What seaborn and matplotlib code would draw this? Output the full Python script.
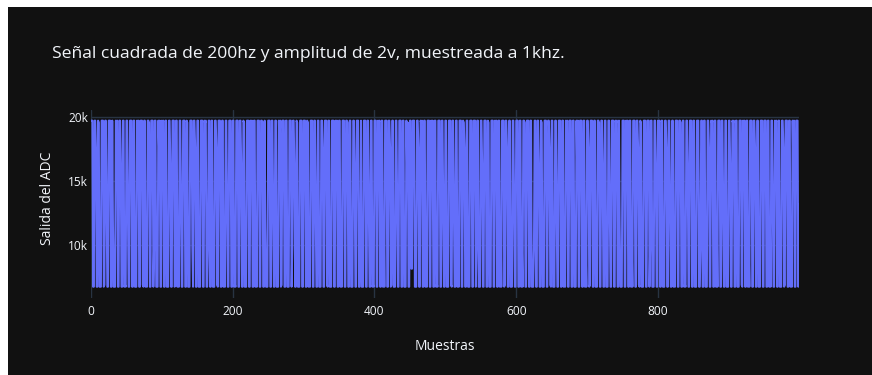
import matplotlib
matplotlib.use("Agg")
import matplotlib.pyplot as plt
import matplotlib.patches as mpatches
from matplotlib.ticker import FuncFormatter
import numpy as np
import pandas as pd
import seaborn as sns

# ADC readings, one character per sample (5 samples per 200 Hz period)
ADC_LEVELS = {
    "H": 19720, "h": 19560,   # high level
    "L": 6740, "l": 6880,     # low level
    "V": 17600, "U": 16000,   # samples caught on an edge
    "M": 13200, "N": 11500,
    "D": 9800, "m": 8150,
}
SAMPLE_CODES = [
    "HHHLL HHVLL HhLLL HHHLl HHMLL HHHLL HNLLL HhHLL HHULL HHLlL",
    "HHMLL HHHLL HHLLL HUHLL HHHlL HHLDL HHhLL HHHLD HHLLL HVHLL",
    "HhHLL HHLLL HHULL HHHLl HHLNL HHMLL HHHLL HhLLL HHHDL HHVLL",
    "HHLLL HHHLL HhHLL DHHLL HHLLL HHVlL HHHLL HHLNL HHMLL HHHLL",
    "HHLlL HHHLL HHULL HhLLL HHHLL HUHLL HHLDL HHHLL HHhLL HNLLL",
    "HHHLL HHMLL HHLLL HVHLl HHHLL HHLLL HHHLD HHULL HhLLL HHHLL",
    "HHHLL HhLNL HHHLL HHMLL HHLLL HHVLL HHHlL HHLLL HHHLL HUHLL",
    "HHLDL HHHLL HHhLL HHLLL HHULL HHHLL DHLLL HHHLL HHMLL HHLlL",
    "HHHLL HhHLL HHLNL HHHLL HHVLl HHLLL HHMLL HHHLL HHLLL HUhLL",
    "HHmmH HHLLL HHVLL HhHLL HHLDL HHHLL HUHLL HHLlL HHHLL HHMLL",
    "HHLLL HHHlL HHMLL HHLNL HHHLL HhVLL HHLLL HHHLL HHHLD HHLLL",
    "HHULL HHHLL HhLLL HHHLL HUHLL HHLNL HHHLl HHVLL HHLLL HHMLL",
    "HHHLL HHLDL HHhLL HHHLL HHLLL DHHLL HHULL HhLLL HHHLL HHVlL",
    "HHLLL HHMLL HHHLL HHLNL HhHLL HHHLL HHLLL HUHLL HHHLL HHLDL",
    "HHVLl HHHLL HHLLL HHhLL HHULL HHLLL HHMLL HHHLL HhHLL HNLLL",
    "HHHLL HUHLL HHLDL HHHLL HHVlL HhLLL HHHLL HHHLD HHLLL HHULL",
    "HhHLL HHLLL HHVLL HHMLL HHLNL HHHLL HHhLL HHLlL HHULL HHHLL",
    "HHLLL HHHLL DHHLL HHLLL HHVLL HhHLL HHLNL HHHLL HHMLL HHLLL",
    "HHULL HhHLL HHLLL HHHlL HUHLL HHLDL HHHLL HHVLL HHLLL HHHLL",
    "HHHLL HHLNL HHMLL HhHLL HHLLL HHVLl HHHLL HHLDL HUHLL HHHLM",
]

TITLE = "Señal cuadrada de 200hz y amplitud de 2v, muestreada a 1khz."
X_LABEL = "Muestras"
Y_LABEL = "Salida del ADC"
X_TICKS = [0, 200, 400, 600, 800]
Y_TICKS = [10000, 15000, 20000]

codes = "".join("".join(SAMPLE_CODES).split())
values = [ADC_LEVELS[c] for c in codes]
df = pd.DataFrame({"Muestras": np.arange(len(values)), "ADC": values})

BG = "#111111"
GRID = "#283442"
TXT = "#f2f5fa"
LINE = "#636efa"

sns.set_theme(style="dark")
plt.rcParams["font.family"] = ["Open Sans", "DejaVu Sans"]

W, H = 872, 375
fig = plt.figure(figsize=(W / 100, H / 100), dpi=100, facecolor="white")
# dark canvas with a thin white margin on the top and left
fig.patches.append(mpatches.Rectangle((8 / W, 0), 1 - 8 / W, 1 - 7 / H,
                                      transform=fig.transFigure,
                                      facecolor=BG, edgecolor="none",
                                      zorder=-10))

ax = fig.add_axes([91 / W, 1 - 298 / H, (799 - 91) / W, (298 - 110) / H])
ax.set_zorder(1)
ax.set_facecolor(BG)

sns.lineplot(data=df, x="Muestras", y="ADC", ax=ax, color=LINE,
             linewidth=1.45, zorder=3)

ax.set_xlim(0, len(values) - 1)
ax.set_ylim(5860, 20550)
ax.set_xticks(X_TICKS)
ax.set_yticks(Y_TICKS)
ax.yaxis.set_major_formatter(FuncFormatter(lambda v, p: f"{int(v / 1000)}k"))
ax.grid(True, color=GRID, linewidth=1.0, zorder=0)
ax.set_axisbelow(True)
ax.tick_params(axis="both", colors=TXT, labelsize=8.6, length=0, pad=5)
ax.tick_params(axis="y", pad=2)
for s in ax.spines.values():
    s.set_visible(False)

ax.set_xlabel("")
ax.set_ylabel("")
fig.text(445 / W, 1 - 347 / H, X_LABEL, color=TXT, fontsize=10,
         ha="center", va="center")
fig.text(47 / W, 1 - 198 / H, Y_LABEL, color=TXT, fontsize=10,
         ha="center", va="center", rotation=90)
fig.text(52 / W, 1 - 54 / H, TITLE, color=TXT, fontsize=12.6,
         ha="left", va="center")

fig.savefig("out.png", dpi=100, facecolor="white")
